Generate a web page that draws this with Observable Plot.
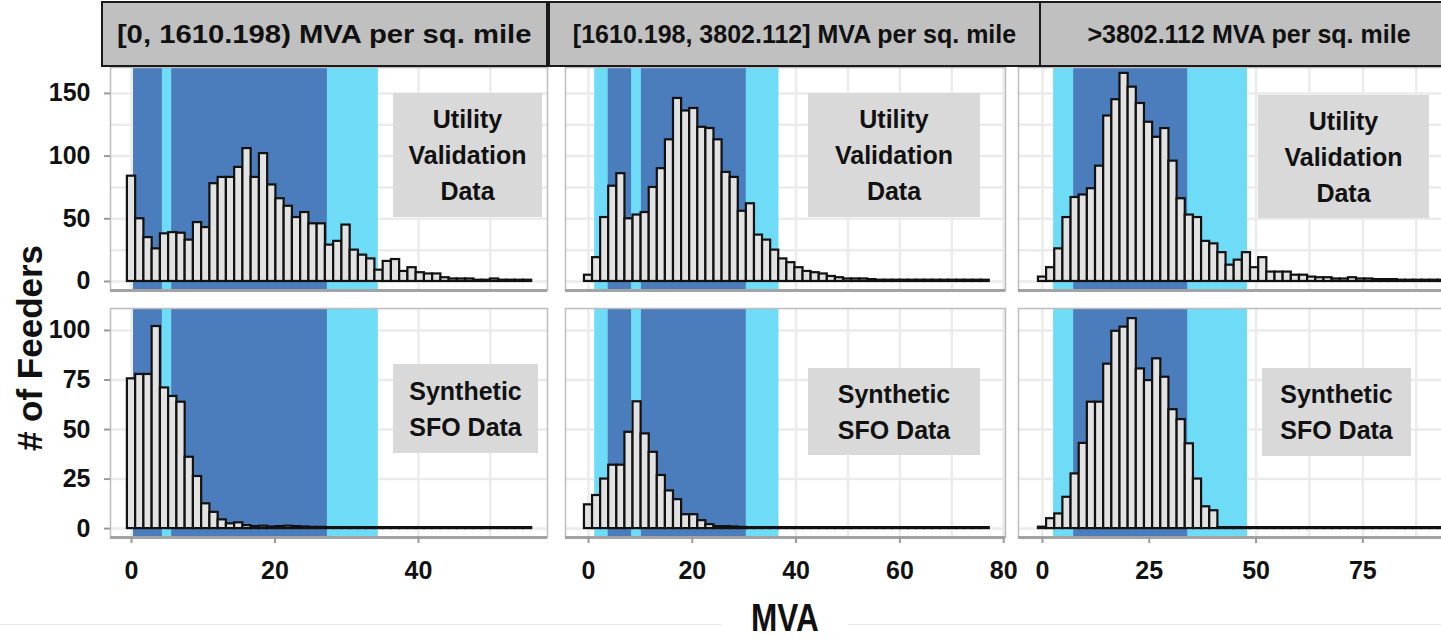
<!DOCTYPE html>
<html>
<head>
<meta charset="utf-8">
<script src="https://cdn.jsdelivr.net/npm/d3@7"></script>
<script src="https://cdn.jsdelivr.net/npm/@observablehq/plot@0.6"></script>
<style>
  body { margin: 0; background: #fff; font-family: "Liberation Sans", Arial, sans-serif; }
  #chart { position: relative; width: 1441px; height: 641px; overflow: hidden; background: #fff; }
  .strip { position: absolute; top: 1px; height: 66px; box-sizing: border-box; background: #c0c0c0;
           border: 2px solid #1a1a1a; display: flex; align-items: center; justify-content: center;
           font-weight: bold; font-size: 25px; color: #111; white-space: nowrap; }
  .strip span { display: inline-block; }
  .note { position: absolute; background: #d9d9d9; display: flex; flex-direction: column;
          align-items: center; justify-content: center; font-weight: bold; font-size: 25px;
          line-height: 36px; color: #111; }
  .ytitle { position: absolute; left: 30px; top: 348px; transform: translate(-50%, -50%) rotate(-90deg);
            font-weight: bold; font-size: 35px; color: #111; white-space: nowrap; }
  .xtitle { position: absolute; left: 722px; top: 596px; width: 126px; height: 44px; background: #fff;
            text-align: center; font-weight: bold; font-size: 38px; line-height: 44px; color: #111; }
  .xtitle span { display: inline-block; transform: scaleX(0.83); }
  .baseline { position: absolute; left: 0; top: 624px; width: 1441px; height: 1px; background: #ececec; }
</style>
</head>
<body>
<div id="chart"></div>
<script>
// Facet labels (columns = feeder load density class, rows = data source)
const densityClasses = [
  "[0, 1610.198) MVA per sq. mile",
  "[1610.198, 3802.112] MVA per sq. mile",
  ">3802.112 MVA per sq. mile"
];
const sourceLabels = [["Utility", "Validation", "Data"], ["Synthetic", "SFO Data"]];

// Histogram bin width (MVA) per density class; bins are centred on multiples of it
const binWidth = [1.15, 1.56, 1.91];

// Feeder counts per bin: utility validation data
const utilityLow = [84, 50, 35, 26, 38, 39, 38.5, 33, 47, 43, 78, 83, 83, 91, 106, 83, 102, 77, 66, 60,
  51, 55, 46, 46, 29, 32, 45, 25, 21, 18, 9, 16, 17.5, 8, 11, 7, 6, 6, 3, 2,
  2, 2, 1, 1, 2, 1, 1, 1, 1];
const utilityMid = [5, 19, 51, 76, 86, 50, 53, 55, 75, 90, 113, 146, 136, 138, 123, 122, 113, 87, 83, 56,
  62, 37, 33, 25, 18, 15, 11, 8, 7, 6, 4, 3, 2, 2, 2, 1.5, 1, 1, 1, 1,
  1, 1, 1, 1, 1, 1, 1, 1, 1, 1];
const utilityHigh = [3.5, 11, 26, 51, 67, 69, 74, 92, 132, 145, 166, 155, 142, 127, 115, 122, 96, 66, 53, 51,
  32, 30, 23, 13, 17, 23, 11, 19, 7.5, 7.5, 7.5, 5, 5, 3.5, 3, 3, 2, 2, 3, 2,
  2, 1.5, 1.5, 1.5, 1, 1, 1, 1, 1, 1];

// Feeder counts per bin: synthetic SFO data
const syntheticLow = [75.6, 77.8, 77.8, 102, 71, 66.7, 63.8, 36, 26.3, 12.5, 8.2, 4.4, 2.4, 2.9, 1.5, 1, 1.2, 0.8, 1, 1.2,
  1, 0.8, 0.6, 0.6, 0.5, 0.5, 0.5, 0.5, 0.5, 0.5, 0.5, 0.5, 0.5, 0.5, 0.5, 0.5, 0.5, 0.5, 0.5, 0.5,
  0.5, 0.5, 0.5, 0.5, 0.5, 0.5, 0.5, 0.5, 0.5];
const syntheticMid = [12, 16.7, 25, 32, 32, 48.6, 64, 47.8, 38.5, 26.8, 19, 14.6, 7, 7, 4, 2, 1, 1, 0.8, 0.6,
  0.5, 0.5, 0.5, 0.5, 0.5, 0.5, 0.5, 0.5, 0.5, 0.5, 0.5, 0.5, 0.5, 0.5, 0.5, 0.5, 0.5, 0.5, 0.5, 0.5,
  0.5, 0.5, 0.5, 0.5, 0.5, 0.5, 0.5, 0.5, 0.5, 0.5];
const syntheticHigh = [0.7, 5, 7.4, 15.8, 27.6, 43, 63.8, 63.8, 83, 99.6, 101.7, 106, 80.6, 74.7, 85.7, 76.4, 60, 55, 42.8, 25,
  11, 9, 0.5, 0.5, 0.5, 0.5, 0.5, 0.5, 0.5, 0.5, 0.5, 0.5, 0.5, 0.5, 0.5, 0.5, 0.5, 0.5, 0.5, 0.5,
  0.5, 0.5, 0.5, 0.5, 0.5, 0.5, 0.5, 0.5, 0.5, 0.5];

// Shaded MVA ranges: outer (light) range and inner (dark) ranges per density class
const outerRange = [[0.28, 34.4], [1.2, 36.7], [2.6, 48]];
const innerRanges = [[[0.28, 4.3], [5.6, 27.3]], [[3.8, 8.3], [10.2, 30.4]], [[7.3, 34]]];

// Scales and ticks
const xDomains = [[-2.93, 57.98], [-4.43, 80.35], [-5.62, 97.4]];
const xTicks = [[0, 20, 40], [0, 20, 40, 60, 80], [0, 25, 50, 75]];
const xGrid = [[0, 10, 20, 30, 40, 50], [0, 10, 20, 30, 40, 50, 60, 70, 80], [0, 12.5, 25, 37.5, 50, 62.5, 75, 87.5]];
const yDomains = [[-7.2, 170.7], [-4.5, 111.1]];
const yTicks = [[0, 50, 100, 150], [0, 25, 50, 75, 100]];
const yGrid = [[0, 25, 50, 75, 100, 125, 150], [0, 25, 50, 75, 100]];

const counts = [[utilityLow, utilityMid, utilityHigh], [syntheticLow, syntheticMid, syntheticHigh]];

// Panel layout in page pixels
const colLeft = [110, 565, 1018], colWidth = [437, 440, 440];
const rowTop = [67, 308], rowHeight = [223, 229];
const stripBoxes = [[101, 447, 1.17], [548, 493, 1], [1039, 420, 1]];
const noteBoxes = [
  [[393, 93, 149, 124], [808, 93, 172, 124], [1258, 95, 171, 123]],
  [[393, 364, 145, 89], [808, 368, 172, 87], [1262, 368, 149, 88]]
];

const colors = { outer: "#6edcf6", inner: "#4b7dbc", bar: "#e2e2e2", grid: "#ebebeb" };

const chart = document.getElementById("chart");

function drawPanel(row, col) {
  const w = binWidth[col];
  const bins = counts[row][col].map((n, i) => ({ x1: (i - 0.5) * w, x2: (i + 0.5) * w, n }));
  const ml = col === 0 ? colLeft[0] : 4, mr = 4, mt = 4, mb = row === 1 ? 60 : 4;
  const marks = [
    Plot.gridX(xGrid[col], { stroke: colors.grid, strokeWidth: 2.5, strokeOpacity: 1 }),
    Plot.gridY(yGrid[row], { stroke: colors.grid, strokeWidth: 2.5, strokeOpacity: 1 }),
    Plot.rect([outerRange[col]], { x1: d => d[0], x2: d => d[1], fill: colors.outer }),
    Plot.rect(innerRanges[col], { x1: d => d[0], x2: d => d[1], fill: colors.inner }),
    Plot.rectY(bins, { x1: "x1", x2: "x2", y: "n", fill: colors.bar, stroke: "#111", strokeWidth: 2.2, inset: 0 }),
    Plot.frame({ stroke: "#bdbdbd", strokeWidth: 1.5 }),
    Plot.ruleY([yDomains[row][0]], { stroke: "#a3a3a3", strokeWidth: 3 })
  ];
  if (col === 0) {
    marks.push(Plot.axisY(yTicks[row], { label: null, tickSize: 6, tickPadding: 14, stroke: "#9a9a9a", strokeWidth: 2 }));
  }
  if (row === 1) {
    marks.push(Plot.axisX(xTicks[col], { label: null, tickSize: 6, tickPadding: 18, stroke: "#9a9a9a", strokeWidth: 2 }));
  }
  const svg = Plot.plot({
    width: colWidth[col] + ml + mr,
    height: rowHeight[row] + mt + mb,
    marginLeft: ml, marginRight: mr, marginTop: mt, marginBottom: mb,
    x: { domain: xDomains[col], axis: null, label: null },
    y: { domain: yDomains[row], axis: null, label: null },
    style: {
      fontFamily: '"Liberation Sans", Arial, sans-serif', fontSize: "25px", fontWeight: "bold",
      color: "#111", background: "transparent", maxWidth: "none", overflow: "visible"
    },
    marks
  });
  svg.style.position = "absolute";
  svg.style.left = (colLeft[col] - ml) + "px";
  svg.style.top = (rowTop[row] - mt) + "px";
  chart.appendChild(svg);
}

for (let r = 0; r < 2; r++) for (let c = 0; c < 3; c++) drawPanel(r, c);

// Facet strips
densityClasses.forEach((label, c) => {
  const [left, width, stretch] = stripBoxes[c];
  const d = document.createElement("div");
  d.className = "strip";
  d.style.left = left + "px";
  d.style.width = width + "px";
  const s = document.createElement("span");
  s.textContent = label;
  s.style.transform = `scaleX(${stretch})`;
  d.appendChild(s);
  chart.appendChild(d);
});

// Data-source annotations inside each panel
noteBoxes.forEach((rowBoxes, r) => rowBoxes.forEach(([x, y, w, h]) => {
  const d = document.createElement("div");
  d.className = "note";
  Object.assign(d.style, { left: x + "px", top: y + "px", width: w + "px", height: h + "px" });
  sourceLabels[r].forEach(line => {
    const s = document.createElement("span");
    s.textContent = line;
    d.appendChild(s);
  });
  chart.appendChild(d);
}));

// Axis titles
const rule = document.createElement("div");
rule.className = "baseline";
chart.appendChild(rule);
const yt = document.createElement("div");
yt.className = "ytitle";
yt.textContent = "# of Feeders";
chart.appendChild(yt);
const xt = document.createElement("div");
xt.className = "xtitle";
xt.innerHTML = "<span>MVA</span>";
chart.appendChild(xt);
</script>
</body>
</html>
